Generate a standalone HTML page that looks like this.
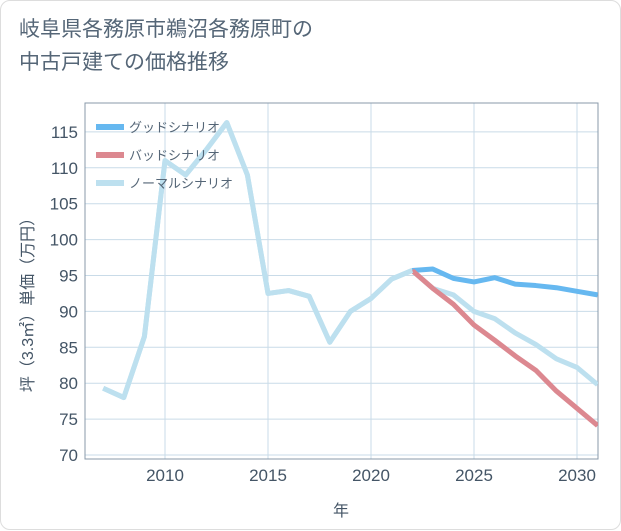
<!DOCTYPE html>
<html><head><meta charset="utf-8"><style>
body{margin:0;background:#fff}
#c{position:relative;width:621px;height:530px;box-sizing:border-box;border:1px solid #ddd;border-radius:10px;background:#fff;font-family:"Liberation Sans","Noto Sans CJK JP",sans-serif;}
h1{position:absolute;left:18px;top:12px;margin:0;font-weight:normal;font-size:21px;line-height:33px;color:#556677;}
</style></head><body>
<div id="c">
<h1>岐阜県各務原市鵜沼各務原町の<br>中古戸建ての価格推移</h1>
<svg id="s" width="621" height="530" style="position:absolute;left:0;top:0"></svg>
</div>
<script>
const years=[2007,2008,2009,2010,2011,2012,2013,2014,2015,2016,2017,2018,2019,2020,2021,2022,2023,2024,2025,2026,2027,2028,2029,2030,2031];
const normal=[79.3,78,86.5,111,109,112.5,116.3,109,92.5,92.9,92.1,85.7,90,91.8,94.5,95.7,93.2,92.3,90,89,87,85.4,83.4,82.2,79.8];
const goodYears=[2022,2023,2024,2025,2026,2027,2028,2029,2030,2031];
const good=[95.7,95.9,94.6,94.1,94.7,93.8,93.6,93.3,92.8,92.3];
const bad=[95.7,93.2,91,88.1,86,83.8,81.8,78.9,76.5,74.1];
const xTicks=[2010,2015,2020,2025,2030];
const yTicks=[70,75,80,85,90,95,100,105,110,115];
const L=84,R=597,T=102,B=458;
const X=v=>164+(v-2010)*20.6;
const Y=v=>454-(v-70)*7.18;
const s=document.getElementById('s');const NS='http://www.w3.org/2000/svg';
function mk(t,a){const e=document.createElementNS(NS,t);for(const k in a)e.setAttribute(k,a[k]);s.appendChild(e);return e;}
xTicks.forEach(v=>{const l=mk('line',{x1:X(v),x2:X(v),y1:T,y2:B,stroke:'#c9dbe8'});


const t=mk('text',{x:X(v),y:480,'text-anchor':'middle','font-size':17,fill:'#445566'});t.textContent=v;

});
yTicks.forEach(v=>{const l=mk('line',{x1:L,x2:R,y1:Y(v),y2:Y(v),stroke:'#c9dbe8'});


const t=mk('text',{x:77,y:Y(v)+6,'text-anchor':'end','font-size':17,fill:'#445566'});t.textContent=v;

});
const box=mk('rect',{x:L,y:T,width:R-L,height:B-T,fill:'none',stroke:'#8899aa'});


const cp=mk('clipPath',{id:'cp'});const cr=document.createElementNS(NS,'rect');cr.setAttribute('x',L);cr.setAttribute('y',T);cr.setAttribute('width',R-L);cr.setAttribute('height',B-T);cp.appendChild(cr);
function line(xs,ys,col,name){const p=mk('polyline',{points:xs.map((x,i)=>X(x)+','+Y(ys[i])).join(' '),fill:'none',stroke:col,'stroke-width':5,'stroke-linejoin':'round','clip-path':'url(#cp)'});

}
line(years,normal,'#bde0ef','normal-line');
line(goodYears,good,'#66b8f0','good-line');
line(goodYears,bad,'#dc8890','bad-line');
line(years.slice(0,16),normal.slice(0,16),'#bde0ef','normal-line-history');
[['グッドシナリオ','#66b8f0'],['バッドシナリオ','#dc8890'],['ノーマルシナリオ','#bde0ef']].forEach((d,i)=>{const y=126+i*28;
const l=mk('line',{x1:95,x2:123,y1:y,y2:y,stroke:d[1],'stroke-width':6});


const t=mk('text',{x:128,y:y+5,'font-size':13,fill:'#556677'});t.textContent=d[0];

});
const xt=mk('text',{x:340,y:515,'text-anchor':'middle','font-size':16,fill:'#445566'});xt.textContent='年';


const yt=mk('text',{x:0,y:0,'text-anchor':'middle','font-size':16,fill:'#445566',transform:'translate(32,300) rotate(-90)'});yt.textContent='坪（3.3㎡）単価（万円）';


</script>
</body></html>
